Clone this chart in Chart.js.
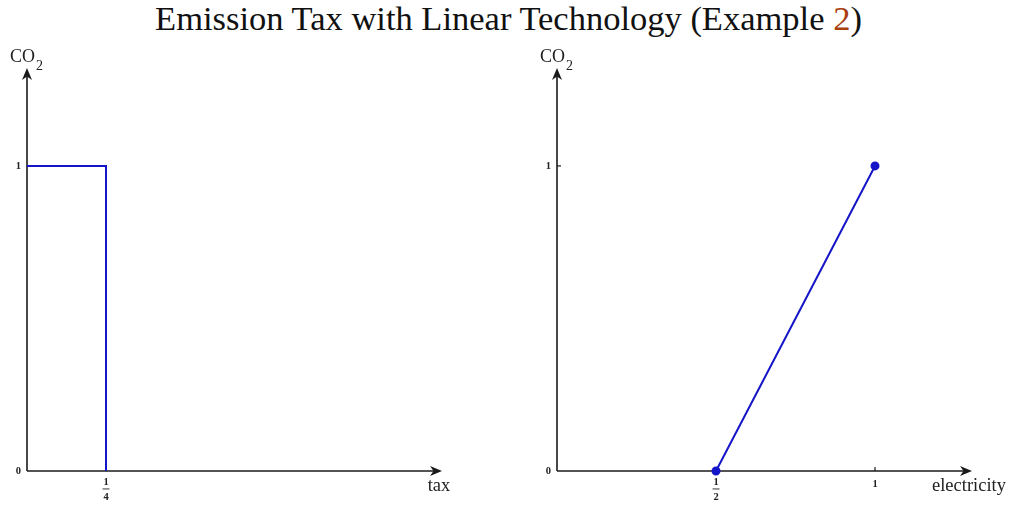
<!DOCTYPE html>
<html>
<head>
<meta charset="utf-8">
<script src="https://cdn.jsdelivr.net/npm/chart.js@4"></script>
<style>
  body { margin: 0; background: #fff; width: 1011px; height: 506px; overflow: hidden; position: relative; }
  #title { position: absolute; left: 0; top: 0; width: 1011px; text-align: center;
           font-family: "Liberation Serif", serif; font-size: 34.5px; line-height: 36px; color: #111; padding-left: 6px; box-sizing: border-box; }
  #title span { color: #a8400e; }
  .panel { position: absolute; top: 0; height: 506px; }
  #leftWrap { left: 0; width: 505px; }
  #rightWrap { left: 505px; width: 506px; }
</style>
</head>
<body>
<div id="title">Emission Tax with Linear Technology (Example <span>2</span>)</div>
<div class="panel" id="leftWrap"><canvas id="leftChart"></canvas></div>
<div class="panel" id="rightWrap"><canvas id="rightChart"></canvas></div>
<script>
// Left panel: emissions vs tax (step)
const taxX = [0, 0.25, 0.25];
const taxCO2 = [1, 1, 0];
const taxTickValues = [0.25];
const taxTickLabels = ['1/4'];
const taxYTickValues = [0, 1];
const taxYTickLabels = ['0', '1'];

// Right panel: emissions vs electricity (linear)
const elecX = [0.5, 1];
const elecCO2 = [0, 1];
const elecTickValues = [0.5, 1];
const elecTickLabels = ['1/2', '1'];
const elecYTickValues = [0, 1];
const elecYTickLabels = ['0', '1'];

const lineColor = '#1414c8';
const axisColor = '#1a1a1a';

// Axes with arrows, drawn through the chart's scales
const arrowAxes = {
    id: 'arrowAxes',
    beforeDatasetsDraw(chart, args, opts) {
        const {ctx, chartArea, scales} = chart;
        const x0 = scales.x.getPixelForValue(0);
        const y0 = scales.y.getPixelForValue(0);
        ctx.save();
        ctx.strokeStyle = axisColor;
        ctx.fillStyle = axisColor;
        ctx.lineWidth = 1.6;

        // x axis
        ctx.beginPath();
        ctx.moveTo(x0, y0);
        ctx.lineTo(chartArea.right - 4, y0);
        ctx.stroke();
        drawArrow(ctx, chartArea.right, y0, 0);
        // y axis
        ctx.beginPath();
        ctx.moveTo(x0, y0);
        ctx.lineTo(x0, chartArea.top + 4);
        ctx.stroke();
        drawArrow(ctx, x0, chartArea.top, -Math.PI / 2);

        // tick marks
        ctx.lineWidth = 1.2;
        opts.xTicks.forEach(v => {
            const px = scales.x.getPixelForValue(v);
            ctx.beginPath(); ctx.moveTo(px, y0); ctx.lineTo(px, y0 - 4); ctx.stroke();
        });
        opts.yTicks.forEach(v => {
            if (v === 0) return;
            const py = scales.y.getPixelForValue(v);
            ctx.beginPath(); ctx.moveTo(x0, py); ctx.lineTo(x0 + 4, py); ctx.stroke();
        });

        // tick labels
        ctx.fillStyle = '#222';
        ctx.font = 'bold 10.5px "Liberation Serif", serif';
        ctx.textAlign = 'center';
        ctx.textBaseline = 'middle';
        opts.xTicks.forEach((v, i) => {
            const px = scales.x.getPixelForValue(v);
            const lab = opts.xLabels[i];
            if (lab.includes('/')) {
                const [n, d] = lab.split('/');
                ctx.fillText(n, px, y0 + 11);
                ctx.fillRect(px - 3.5, y0 + 17.5, 7, 0.9);
                ctx.fillText(d, px, y0 + 26);
            } else {
                ctx.fillText(lab, px, y0 + 13);
            }
        });
        ctx.textAlign = 'right';
        opts.yTicks.forEach((v, i) => {
            const py = scales.y.getPixelForValue(v);
            ctx.fillText(opts.yLabels[i], x0 - 6, py);
        });

        // axis titles
        ctx.fillStyle = '#222';
        ctx.font = '18px "Liberation Serif", serif';
        ctx.textAlign = 'left';
        ctx.textBaseline = 'alphabetic';
        ctx.fillText('CO', x0 - 17, chartArea.top - 6);
        const coW = ctx.measureText('CO').width;
        ctx.font = '14px "Liberation Serif", serif';
        ctx.fillText('2', x0 - 17 + coW + 1, chartArea.top + 2);
        ctx.font = '18.5px "Liberation Serif", serif';
        ctx.textAlign = 'center';
        ctx.fillText(opts.xTitle, chartArea.right + opts.xTitleShift, y0 + 20);
        ctx.restore();
    }
};

function drawArrow(ctx, x, y, angle) {
    ctx.save();
    ctx.translate(x, y);
    ctx.rotate(angle);
    ctx.beginPath();
    ctx.moveTo(0, 0);
    ctx.lineTo(-12, -5);
    ctx.lineTo(-8.5, 0);
    ctx.lineTo(-12, 5);
    ctx.closePath();
    ctx.fill();
    ctx.restore();
}

function makeChart(id, xs, ys, xMax, yMax, pad, pointR, axisOpts) {
    const canvas = document.getElementById(id);
    return new Chart(canvas.getContext('2d'), {
        type: 'scatter',
        data: {
            datasets: [{
                data: xs.map((x, i) => ({x: x, y: ys[i]})),
                showLine: true,
                borderColor: lineColor,
                backgroundColor: lineColor,
                borderWidth: 2,
                pointRadius: pointR,
                pointHoverRadius: pointR,
                tension: 0,
                clip: false
            }]
        },
        plugins: [arrowAxes],
        options: {
            responsive: true,
            maintainAspectRatio: false,
            animation: false,
            layout: { padding: pad },
            plugins: {
                legend: { display: false },
                tooltip: { enabled: false },
                arrowAxes: axisOpts
            },
            scales: {
                x: { type: 'linear', min: 0, max: xMax, display: false },
                y: { type: 'linear', min: 0, max: yMax, display: false }
            }
        }
    });
}

makeChart('leftChart', taxX, taxCO2, 1.313, 1.321,
    {left: 27, top: 68, right: 63, bottom: 35}, 0,
    {xTicks: taxTickValues, xLabels: taxTickLabels, yTicks: taxYTickValues, yLabels: taxYTickLabels,
     xTitle: 'tax', xTitleShift: -3});

makeChart('rightChart', elecX, elecCO2, 1.305, 1.321,
    {left: 52, top: 68, right: 39, bottom: 35}, 3.5,
    {xTicks: elecTickValues, xLabels: elecTickLabels, yTicks: elecYTickValues, yLabels: elecYTickLabels,
     xTitle: 'electricity', xTitleShift: -3});
</script>
</body>
</html>
